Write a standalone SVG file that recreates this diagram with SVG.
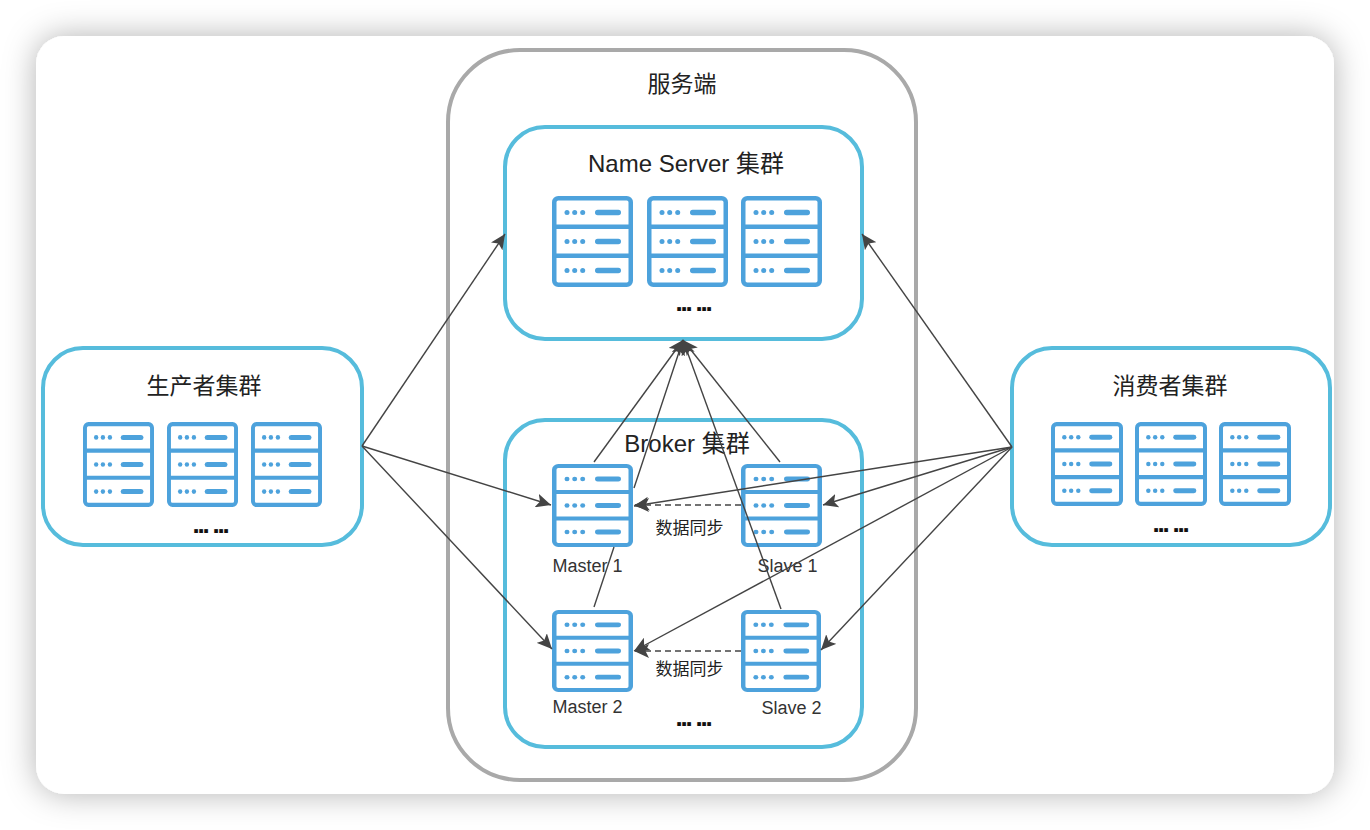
<svg xmlns="http://www.w3.org/2000/svg" width="1370" height="830" viewBox="0 0 1370 830">
  <style>
    text { font-family: "Liberation Sans", "Noto Sans CJK SC", sans-serif; fill: #222; text-anchor: middle; }
    .cluster { fill: #fff; stroke: #56bcdc; stroke-width: 4; }
    .title { font-size: 23px; }
    .big { font-size: 24px; }
    .label { font-size: 18px; fill: #333; }
    .sync { font-size: 17px; }
    .more { font-size: 26px; font-weight: bold; fill: #111; letter-spacing: -2.2px; }
    .link { fill: none; stroke: #444; stroke-width: 1.4; marker-end: url(#arrow); }
    .dash { stroke-dasharray: 6 4; }
  </style>
  <defs>
    <filter id="shadow" x="-10%" y="-15%" width="120%" height="130%">
      <feDropShadow dx="0" dy="0" stdDeviation="16" flood-color="#000" flood-opacity="0.3"/>
    </filter>
    <marker id="arrow" markerUnits="userSpaceOnUse" viewBox="0 0 15 14" refX="15" refY="7" markerWidth="15" markerHeight="14" orient="auto">
      <path d="M15,7 L0,0 L3.5,7 L0,14 Z" fill="#444"/>
    </marker>
    <symbol id="server" viewBox="0 0 81 91" preserveAspectRatio="none">
      <rect x="2.25" y="2.25" width="76.5" height="86.5" rx="4" fill="#fff" stroke="#4da2dc" stroke-width="4.5"/>
      <path d="M2,30.7 H79 M2,59.7 H79" stroke="#4da2dc" stroke-width="4.5" fill="none"/>
      <g fill="#4da2dc">
        <circle cx="15" cy="16.5" r="2.5"/><circle cx="22.7" cy="16.5" r="2.5"/><circle cx="30.7" cy="16.5" r="2.5"/><rect x="43" y="13.8" width="26" height="5.4" rx="2.7"/>
        <circle cx="15" cy="45.5" r="2.5"/><circle cx="22.7" cy="45.5" r="2.5"/><circle cx="30.7" cy="45.5" r="2.5"/><rect x="43" y="42.8" width="26" height="5.4" rx="2.7"/>
        <circle cx="15" cy="74.5" r="2.5"/><circle cx="22.7" cy="74.5" r="2.5"/><circle cx="30.7" cy="74.5" r="2.5"/><rect x="43" y="71.8" width="26" height="5.4" rx="2.7"/>
      </g>
    </symbol>
  </defs>

  <rect width="1370" height="830" fill="#fff"/>
  <rect id="card" x="36" y="36" width="1298" height="758" rx="28" fill="#fff" filter="url(#shadow)"/>

  <g id="server-side">
    <rect x="448" y="50" width="468" height="730" rx="72" fill="#fff" stroke="#a9a9a9" stroke-width="4"/>
    <text class="title" x="682" y="92">服务端</text>
  </g>

  <g id="name-server-cluster">
    <rect class="cluster" x="505" y="127" width="357" height="212" rx="40"/>
    <text class="big" x="686" y="172">Name Server 集群</text>
    <use href="#server" x="552" y="196" width="81" height="91"/>
    <use href="#server" x="647" y="196" width="81" height="91"/>
    <use href="#server" x="741" y="196" width="81" height="91"/>
    <text class="more" x="693" y="311">... ...</text>
  </g>

  <g id="producer-cluster">
    <rect class="cluster" x="43" y="348" width="319" height="197" rx="40"/>
    <text class="title" x="204" y="394">生产者集群</text>
    <use href="#server" x="83" y="422" width="71" height="85"/>
    <use href="#server" x="167" y="422" width="71" height="85"/>
    <use href="#server" x="251" y="422" width="71" height="85"/>
    <text class="more" x="210" y="533">... ...</text>
  </g>

  <g id="consumer-cluster">
    <rect class="cluster" x="1012" y="348" width="318" height="197" rx="40"/>
    <text class="title" x="1170" y="394">消费者集群</text>
    <use href="#server" x="1051" y="422" width="72" height="84"/>
    <use href="#server" x="1135" y="422" width="72" height="84"/>
    <use href="#server" x="1219" y="422" width="72" height="84"/>
    <text class="more" x="1170" y="532">... ...</text>
  </g>

  <g id="broker-cluster">
    <rect class="cluster" x="505" y="420" width="357" height="327" rx="40"/>
    <text class="big" x="687" y="452">Broker 集群</text>
    <text class="more" x="693" y="726">... ...</text>
  </g>

  <g id="master-1">
    <use href="#server" x="552" y="464" width="81" height="83"/>
    <text class="label" x="587.500" y="572">Master 1</text>
  </g>
  <g id="slave-1">
    <use href="#server" x="741" y="464" width="81" height="83"/>
    <text class="label" x="787.500" y="572">Slave 1</text>
  </g>
  <g id="master-2">
    <use href="#server" x="552" y="610" width="81" height="82"/>
    <text class="label" x="587.500" y="713">Master 2</text>
  </g>
  <g id="slave-2">
    <use href="#server" x="741" y="610" width="80" height="82"/>
    <text class="label" x="791.500" y="714">Slave 2</text>
  </g>

  <g id="sync-labels">
    <text class="sync" x="689.500" y="534">数据同步</text>
    <text class="sync" x="689.500" y="675">数据同步</text>
  </g>

  <g id="connectors">
    <path class="link" d="M362,446 L505,234"/>
    <path class="link" d="M362,446 L551,505"/>
    <path class="link" d="M362,446 L552,649"/>
    <path class="link" d="M1012,447 L862,234"/>
    <path class="link" d="M1012,447 L634,506"/>
    <path class="link" d="M1012,447 L823,505"/>
    <path class="link" d="M1012,447 L634,651"/>
    <path class="link" d="M1012,447 L821,650"/>
    <path class="link" d="M594,462 L683,340"/>
    <path class="link" d="M594,607 L614,547 M634,488 L683,340"/>
    <path class="link" d="M780,462 L683,340"/>
    <path class="link" d="M781,609 L683,340"/>
    <path class="link dash" d="M741,505 L634,505"/>
    <path class="link dash" d="M741,651 L634,651"/>
  </g>
</svg>
